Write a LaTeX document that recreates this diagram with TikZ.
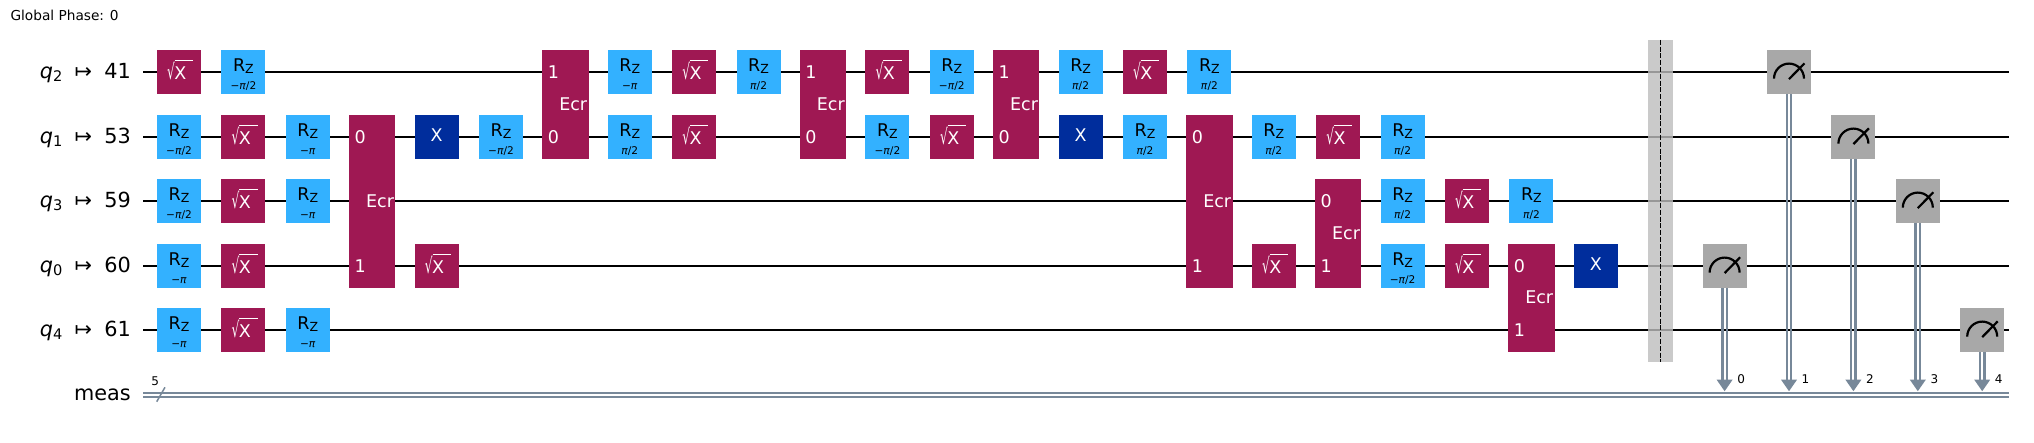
\documentclass[tikz,border=0pt]{standalone}
\usepackage{fontspec}
\usepackage{graphicx}
\setmainfont{DejaVu Sans}
\definecolor{rzblue}{HTML}{33B1FF}
\definecolor{sxred}{HTML}{9F1853}
\definecolor{xblue}{HTML}{002D9C}
\definecolor{mgray}{HTML}{A8A8A8}
\definecolor{bgray}{HTML}{BDBDBD}
\definecolor{cwire}{HTML}{778899}
\newcommand\fs[1]{\fontsize{#1}{#1}\selectfont}
\def\cx#1{\fpeval{179+64.4*(#1)}}
\def\qa{72.3}\def\qb{137.3}\def\qc{201.3}\def\qd{266.3}\def\qe{330.3}\def\cla{392.7}\def\clb{396.7}
\tikzset{
  wireln/.style={draw=black,line width=2.3pt},
  cwireln/.style={draw=cwire,line width=2.4pt},
  gatebox/.style={rectangle,draw=none,inner sep=0pt,minimum width=44pt,minimum height=44pt},
  ecrbox/.style={rectangle,draw=none,fill=sxred,inner sep=0pt,minimum width=46.5pt},
  gtext/.style={inner sep=0pt,anchor=base,font=\fs{17.5}},
  ptext/.style={inner sep=0pt,anchor=base,font=\fs{10.6}},
  qlabel/.style={inner sep=0pt,anchor=base east,text=black,font=\fs{20.8}},
  idx/.style={inner sep=0pt,anchor=base,text=black,font=\fs{12}},
  meter/.style={line width=2.2pt,draw=black,line cap=butt},
}
\newcommand\rzg[4]{%
  \node[gatebox,fill=rzblue] (#1) at (\cx{#2},#3) {};
  \node[gtext,text=black] (#1t) at ([yshift=1pt]#1.center) {R\raisebox{-2pt}{\fs{12.5}Z}};
  \node[ptext,text=black] (#1p) at ([yshift=-16.8pt]#1.center) {#4};
}
\newcommand\sxg[3]{%
  \node[gatebox,fill=sxred] (#1) at (\cx{#2},#3) {};
  \node[gtext,text=white,anchor=base west] (#1t) at ([xshift=-12pt,yshift=-7pt]#1.center)
    {\scalebox{.58}[1.02]{\fs{21}√}\raisebox{18.2pt}{\rlap{\rule{18.2pt}{.9pt}}}\kern-.5pt X};
}
\newcommand\xg[3]{%
  \node[gatebox,fill=xblue] (#1) at (\cx{#2},#3) {};
  \node[gtext,text=white] (#1t) at ([yshift=-4.5pt]#1.center) {X};
}
% name, col, top row, bottom row, top index, bottom index
\newcommand\ecrg[6]{%
  \node[ecrbox,minimum height={\fpeval{#4-#3+43.6}pt}] (#1) at (\cx{#2},{(#3+#4)/2}) {};
  \node[gtext,text=white] (#1t) at ([xshift=7.8pt,yshift=-5.5pt]#1.center) {Ecr};
  \node[gtext,text=white] (#1a) at (\fpeval{\cx{#2}-12},\fpeval{#3+6}) {#5};
  \node[gtext,text=white] (#1b) at (\fpeval{\cx{#2}-12},\fpeval{#4+6}) {#6};
}
% name, col, row, index
\newcommand\measg[4]{%
  \coordinate (#1c) at (\cx{#2},\cla);
  \node[gatebox,fill=mgray] (#1) at (\cx{#2},#3) {};
  \draw[cwire,line width=2.4pt] ([xshift=-2.2pt]#1.south) -- ([xshift=-2.2pt,yshift=11pt]#1c);
  \draw[cwire,line width=2.4pt] ([xshift=2.2pt]#1.south) -- ([xshift=2.2pt,yshift=11pt]#1c);
  \fill[cwire] ([xshift=-8pt,yshift=13pt]#1c) -- ([xshift=8pt,yshift=13pt]#1c) -- ([yshift=1.5pt]#1c) -- cycle;
  \draw[meter] ([xshift=-15pt,yshift=-6.3pt]#1.center) arc[start angle=180,end angle=0,radius=15pt];
  \draw[meter] ([yshift=-6.8pt]#1.center) -- ([xshift=15.5pt,yshift=9pt]#1.center);
  \node[idx] (#1i) at ([xshift=16.5pt,yshift=8.7pt]#1c) {#4};
}
\newcommand\minusp{−\textit{π}}
\newcommand\mpih{−\textit{π}/2}
\newcommand\ppih{\textit{π}/2}
\begin{document}
\begin{tikzpicture}[x=1pt,y=-1pt]
\useasboundingbox (0,0) rectangle (2034,443);
\node[inner sep=0pt,anchor=base west,text=black,font=\fs{13.7}] (gp) at (10.3,20.7) {Global Phase: 0};
% qubit labels
\newcommand\qlab[4]{\node[qlabel] (#1) at (131,\fpeval{#2+6}) {\textit{q}\raisebox{-3.2pt}{\fs{14.6}#3}\hspace{12.3pt}↦\hspace{12.3pt}#4};}
\qlab{la}{\qa}{2}{41}
\qlab{lb}{\qb}{1}{53}
\qlab{lc}{\qc}{3}{59}
\qlab{ld}{\qd}{0}{60}
\qlab{le}{\qe}{4}{61}
\node[qlabel] (lf) at (131,400.7) {meas};
% wires
\foreach \n/\y in {a/\qa,b/\qb,c/\qc,d/\qd,e/\qe}{
  \coordinate (w\n s) at (143,\y);
  \coordinate (w\n e) at (2009,\y);
  \draw[wireln] (w\n s) -- (w\n e);
}
\coordinate (c1s) at (143,\cla); \coordinate (c1e) at (2009,\cla);
\coordinate (c2s) at (143,\clb); \coordinate (c2e) at (2009,\clb);
\draw[cwireln] (c1s) -- (c1e);
\draw[cwireln] (c2s) -- (c2e);
\coordinate (sla) at (156.7,401.7); \coordinate (slb) at (165,387.3);
\draw[cwire,line width=1.5pt] (sla) -- (slb);
\node[idx] (cn) at (155.3,385) {5};
% gates
\sxg{g1}{0}{\qa}
\rzg{g2}{0}{\qb}{\mpih}
\rzg{g3}{0}{\qc}{\mpih}
\rzg{g4}{0}{\qd}{\minusp}
\rzg{g5}{0}{\qe}{\minusp}
\rzg{g6}{1}{\qa}{\mpih}
\sxg{g7}{1}{\qb}
\sxg{g8}{1}{\qc}
\sxg{g9}{1}{\qd}
\sxg{g10}{1}{\qe}
\rzg{g11}{2}{\qb}{\minusp}
\rzg{g12}{2}{\qc}{\minusp}
\rzg{g13}{2}{\qe}{\minusp}
\ecrg{e1}{3}{\qb}{\qd}{0}{1}
\xg{g14}{4}{\qb}
\sxg{g15}{4}{\qd}
\rzg{g16}{5}{\qb}{\mpih}
\ecrg{e2}{6}{\qa}{\qb}{1}{0}
\rzg{g17}{7}{\qa}{\minusp}
\rzg{g18}{7}{\qb}{\ppih}
\sxg{g19}{8}{\qa}
\sxg{g20}{8}{\qb}
\rzg{g21}{9}{\qa}{\ppih}
\ecrg{e3}{10}{\qa}{\qb}{1}{0}
\sxg{g22}{11}{\qa}
\rzg{g23}{11}{\qb}{\mpih}
\rzg{g24}{12}{\qa}{\mpih}
\sxg{g25}{12}{\qb}
\ecrg{e4}{13}{\qa}{\qb}{1}{0}
\rzg{g26}{14}{\qa}{\ppih}
\xg{g27}{14}{\qb}
\sxg{g28}{15}{\qa}
\rzg{g29}{15}{\qb}{\ppih}
\rzg{g30}{16}{\qa}{\ppih}
\ecrg{e5}{16}{\qb}{\qd}{0}{1}
\rzg{g31}{17}{\qb}{\ppih}
\sxg{g32}{17}{\qd}
\sxg{g33}{18}{\qb}
\ecrg{e6}{18}{\qc}{\qd}{0}{1}
\rzg{g34}{19}{\qb}{\ppih}
\rzg{g35}{19}{\qc}{\ppih}
\rzg{g36}{19}{\qd}{\mpih}
\sxg{g37}{20}{\qc}
\sxg{g38}{20}{\qd}
\rzg{g39}{21}{\qc}{\ppih}
\ecrg{e7}{21}{\qd}{\qe}{0}{1}
\xg{g40}{22}{\qd}
% barrier
\node[rectangle,draw=none,fill=bgray,fill opacity=.8,inner sep=0pt,minimum width=25.4pt,minimum height=321.7pt] (bar) at (\cx{23},200.85) {};
\draw[black,line width=1.3pt,dash pattern=on 5pt off 1.8pt] (bar.north) -- (bar.south);
% measures
\measg{m0}{24}{\qd}{0}
\measg{m1}{25}{\qa}{1}
\measg{m2}{26}{\qb}{2}
\measg{m3}{27}{\qc}{3}
\measg{m4}{28}{\qe}{4}
\end{tikzpicture}
\end{document}
